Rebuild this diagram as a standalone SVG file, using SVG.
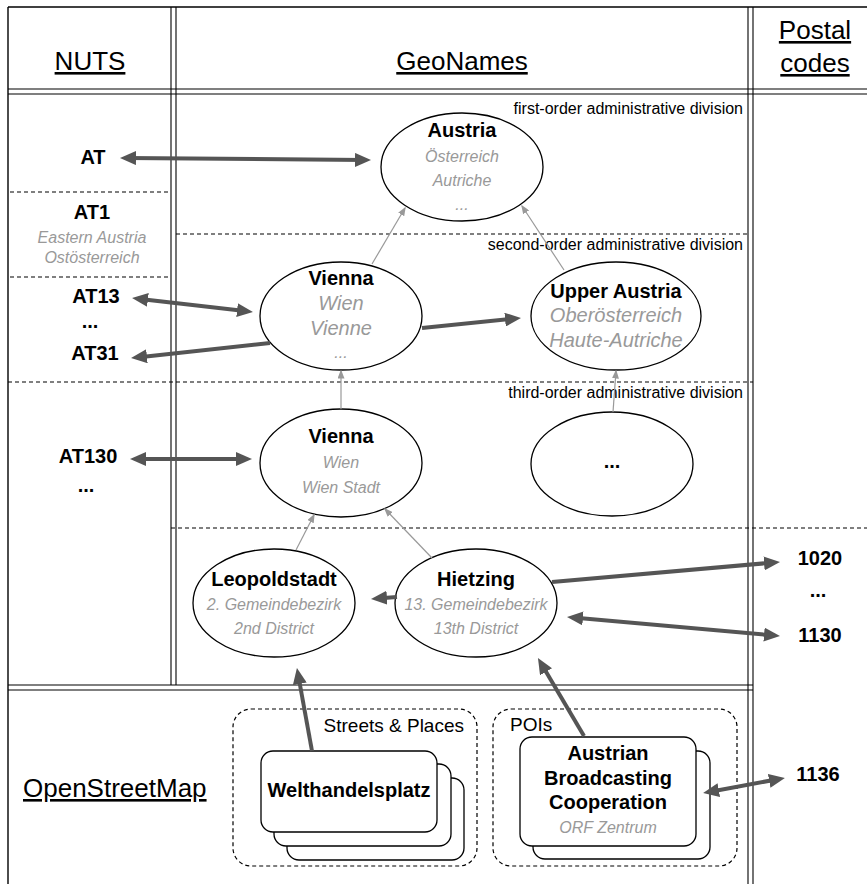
<svg xmlns="http://www.w3.org/2000/svg" width="867" height="884" viewBox="0 0 867 884">
<style>
text{font-family:"Liberation Sans",Arial,Helvetica,sans-serif;}
.hdr{font-size:26px;fill:#000;text-decoration:underline;}
.lvl{font-size:16px;fill:#000;text-anchor:end;}
.b{font-size:20px;font-weight:bold;fill:#000;text-anchor:middle;}
.g{font-size:16px;font-style:italic;fill:#999;text-anchor:middle;}
.gl{font-size:20px;font-style:italic;fill:#999;text-anchor:middle;}
.grp{font-size:19px;fill:#000;}
.line{stroke:#000;stroke-width:1.4;fill:none;}
.dl{stroke:#000;stroke-width:1.1;fill:none;}
.dash{stroke:#000;stroke-width:1.2;stroke-dasharray:4 3;fill:none;}
.node{fill:#fff;stroke:#000;stroke-width:1.3;}
.card{fill:#fff;stroke:#000;stroke-width:1.3;}
.thick{stroke:#555;stroke-width:4;fill:none;marker-end:url(#ah);}
.thick2{stroke:#555;stroke-width:4;fill:none;marker-end:url(#ah);marker-start:url(#ahs);}
.thin{stroke:#999;stroke-width:1.2;fill:none;marker-end:url(#at);}
</style>
<defs>
<marker id="ah" viewBox="0 0 16 14" markerWidth="16" markerHeight="14" refX="10" refY="7" orient="auto" markerUnits="userSpaceOnUse"><path d="M0,0 L16,7 L0,14 z" fill="#555"/></marker>
<marker id="ahs" viewBox="0 0 16 14" markerWidth="16" markerHeight="14" refX="10" refY="7" orient="auto-start-reverse" markerUnits="userSpaceOnUse"><path d="M0,0 L16,7 L0,14 z" fill="#555"/></marker>
<marker id="at" viewBox="0 0 9 7" markerWidth="9" markerHeight="7" refX="7.5" refY="3.5" orient="auto" markerUnits="userSpaceOnUse"><path d="M0,0 L9,3.5 L0,7 z" fill="#999"/></marker>
</defs>
<rect width="867" height="884" fill="#fff"/>
<g id="table">
<line class="line" x1="8" y1="7" x2="867" y2="7"/>
<line class="line" x1="8" y1="7" x2="8" y2="884"/>
<line class="dl" x1="8" y1="89" x2="867" y2="89"/>
<line class="dl" x1="8" y1="94" x2="867" y2="94"/>
<line class="dl" x1="171" y1="7" x2="171" y2="685"/>
<line class="dl" x1="176" y1="7" x2="176" y2="685"/>
<line class="dl" x1="748" y1="7" x2="748" y2="884"/>
<line class="dl" x1="753" y1="7" x2="753" y2="884"/>
<line class="dl" x1="8" y1="685" x2="753" y2="685"/>
<line class="dl" x1="8" y1="690" x2="753" y2="690"/>
<line class="dash" x1="10" y1="192" x2="170" y2="192"/>
<line class="dash" x1="10" y1="277" x2="170" y2="277"/>
<line class="dash" x1="176" y1="234" x2="748" y2="234"/>
<line class="dash" x1="8" y1="382" x2="753" y2="382"/>
<line class="dash" x1="171" y1="528" x2="867" y2="528"/>
</g>
<g id="headers">
<text class="hdr" x="90" y="70" text-anchor="middle">NUTS</text>
<text class="hdr" x="462" y="70" text-anchor="middle">GeoNames</text>
<text class="hdr" x="815" y="39" text-anchor="middle">Postal</text>
<text class="hdr" x="815" y="72" text-anchor="middle">codes</text>
<text class="hdr" x="23" y="797">OpenStreetMap</text>
<text class="lvl" x="743" y="114">first-order administrative division</text>
<text class="lvl" x="743" y="250">second-order administrative division</text>
<text class="lvl" x="743" y="398">third-order administrative division</text>
</g>
<g id="nuts">
<text class="b" x="93" y="164">AT</text>
<text class="b" x="92" y="219">AT1</text>
<text class="g" x="92" y="243">Eastern Austria</text>
<text class="g" x="92" y="263">Ostösterreich</text>
<text class="b" x="96" y="303">AT13</text>
<text class="b" x="90" y="328">...</text>
<text class="b" x="95" y="360">AT31</text>
<text class="b" x="88" y="463">AT130</text>
<text class="b" x="86" y="492">...</text>
</g>
<g id="postal">
<text class="b" x="820" y="565">1020</text>
<text class="b" x="818" y="597">...</text>
<text class="b" x="820" y="642">1130</text>
<text class="b" x="818" y="781">1136</text>
</g>
<g id="n-austria">
<ellipse class="node" cx="462" cy="167" rx="81" ry="54"/>
<text class="b" x="462" y="137">Austria</text>
<text class="g" x="462" y="162">Österreich</text>
<text class="g" x="462" y="186">Autriche</text>
<text class="g" x="462" y="210">...</text>
</g>
<g id="n-vienna2">
<ellipse class="node" cx="341" cy="316" rx="81" ry="54"/>
<text class="b" x="341" y="285">Vienna</text>
<text class="gl" x="341" y="310">Wien</text>
<text class="gl" x="341" y="335">Vienne</text>
<text class="g" x="341" y="358">...</text>
</g>
<g id="n-upper">
<ellipse class="node" cx="616" cy="316" rx="85" ry="54"/>
<text class="b" x="616" y="298">Upper Austria</text>
<text class="gl" x="616" y="322">Oberösterreich</text>
<text class="gl" x="616" y="347">Haute-Autriche</text>
</g>
<g id="n-vienna3">
<ellipse class="node" cx="341" cy="463" rx="81" ry="54"/>
<text class="b" x="341" y="443">Vienna</text>
<text class="g" x="341" y="468">Wien</text>
<text class="g" x="341" y="493">Wien Stadt</text>
</g>
<g id="n-dots">
<ellipse class="node" cx="612" cy="464" rx="81" ry="52"/>
<text class="b" x="612" y="468">...</text>
</g>
<g id="n-leopoldstadt">
<ellipse class="node" cx="274" cy="603" rx="81" ry="54"/>
<text class="b" x="274" y="586">Leopoldstadt</text>
<text class="g" x="274" y="610">2. Gemeindebezirk</text>
<text class="g" x="274" y="634">2nd District</text>
</g>
<g id="n-hietzing">
<ellipse class="node" cx="476" cy="603" rx="81" ry="54"/>
<text class="b" x="476" y="586">Hietzing</text>
<text class="g" x="476" y="610">13. Gemeindebezirk</text>
<text class="g" x="476" y="634">13th District</text>
</g>
<g id="g-streets">
<rect class="dash" x="233" y="709" width="244" height="157" rx="18"/>
<text class="grp" x="464" y="732" text-anchor="end">Streets &amp; Places</text>
</g>
<g id="g-pois">
<rect class="dash" x="493" y="709" width="244" height="157" rx="18"/>
<text class="grp" x="510" y="731">POIs</text>
</g>
<g id="n-welthandelsplatz">
<rect class="card" x="287" y="778" width="177" height="82" rx="12"/>
<rect class="card" x="274" y="764" width="177" height="82" rx="12"/>
<rect class="card" x="261" y="751" width="176" height="81" rx="12"/>
<text class="b" x="349" y="797">Welthandelsplatz</text>
</g>
<g id="n-orf">
<rect class="card" x="533" y="751" width="177" height="108" rx="12"/>
<rect class="card" x="520" y="737" width="176" height="109" rx="12"/>
<text class="b" x="608" y="760">Austrian</text>
<text class="b" x="608" y="785">Broadcasting</text>
<text class="b" x="608" y="809">Cooperation</text>
<text class="g" x="608" y="833">ORF Zentrum</text>
</g>
<g id="connectors">
<line class="thin" x1="372" y1="264" x2="405" y2="208"/>
<line class="thin" x1="564" y1="270" x2="522" y2="206"/>
<line class="thin" x1="341" y1="409" x2="341" y2="371"/>
<line class="thin" x1="613" y1="412" x2="616" y2="371"/>
<line class="thin" x1="296" y1="550" x2="314" y2="515"/>
<line class="thin" x1="432" y1="558" x2="385" y2="509"/>
<line class="thick2" x1="126" y1="158" x2="365" y2="160"/>
<line class="thick2" x1="138" y1="298.7" x2="247" y2="311.3"/>
<line class="thick" x1="270" y1="343" x2="137" y2="357.4"/>
<line class="thick" x1="422" y1="328" x2="515" y2="318.6"/>
<line class="thick2" x1="136" y1="459" x2="246" y2="459"/>
<line class="thick" x1="397" y1="597" x2="377" y2="598.5"/>
<line class="thick" x1="552" y1="582" x2="774" y2="562.5"/>
<line class="thick2" x1="573" y1="617.5" x2="774" y2="635.5"/>
<line class="thick" x1="312" y1="751" x2="298" y2="674"/>
<line class="thick" x1="584" y1="736" x2="541" y2="663.2"/>
<line class="thick2" x1="709" y1="792" x2="779" y2="779"/>
</g>
</svg>
